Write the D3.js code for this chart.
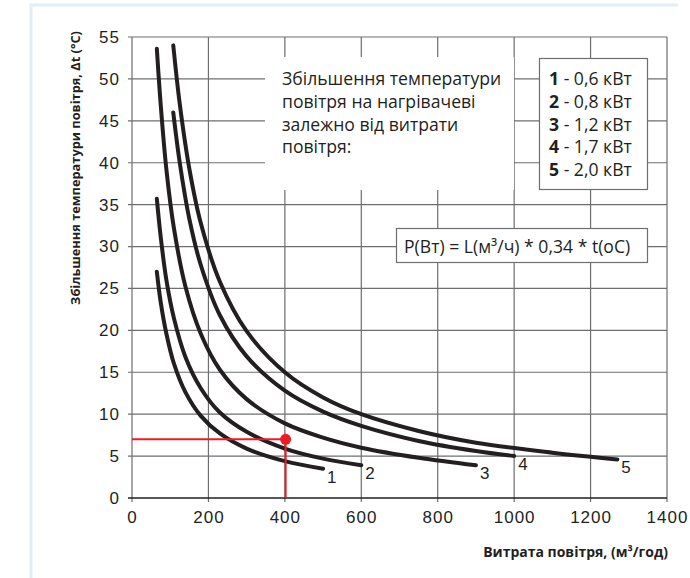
<!DOCTYPE html>
<meta charset="utf-8">
<script src="https://cdn.jsdelivr.net/npm/d3@7"></script>
<style>
  body { margin: 0; background: #fff; }
  svg text { fill: #231f20; }
</style>
<body>
<script>

    // curve data: [air flow m3/h, delta t °C]
    var curve1 = [[65,27],[75,23.4],[90,19.6],[110,16],[140,12.6],[180,9.8],[230,7.7],[300,5.9],[400,4.4],[500,3.5]];
    var curve2 = [[65,35.7],[75,31.2],[90,26],[110,21.4],[140,16.8],[180,13.1],[230,10.2],[300,7.9],[400,5.9],[500,4.7],[600,3.9]];
    var curve3 = [[65,53.6],[75,47],[90,39.2],[110,32.1],[140,25.2],[180,19.6],[230,15.3],[300,11.8],[400,8.9],[500,7.2],[600,6],[750,4.8],[900,3.9]];
    var curve4 = [[108,46],[125,40],[150,33.3],[180,27.8],[230,21.8],[300,16.9],[400,12.8],[500,10.3],[600,8.6],[750,6.8],[900,5.6],[1000,5]];
    var curve5 = [[108,54],[125,47],[150,39.3],[180,32.8],[230,25.8],[300,19.9],[400,15],[500,12],[600,10],[750,8],[900,6.6],[1100,5.4],[1270,4.6]];
    var curves = [curve1, curve2, curve3, curve4, curve5];
    var curveNames = ["1", "2", "3", "4", "5"];
    var powers = ["0,6 кВт", "0,8 кВт", "1,2 кВт", "1,7 кВт", "2,0 кВт"];

    var xTicks = [0, 200, 400, 600, 800, 1000, 1200, 1400];
    var yTicks = [0, 5, 10, 15, 20, 25, 30, 35, 40, 45, 50, 55];

    // example point
    var point = [402, 7];

    var descLines = ["Збільшення температури", "повітря на нагрівачеві", "залежно від витрати", "повітря:"];
    var formula = "P(Вт) = L(м³/ч) * 0,34 * t(oC)";
    var yTitle = "Збільшення температури повітря, Δt (°C)";
    var xTitle = "Витрата повітря, (м³/год)";

    var W = 690, H = 578;
    var mLeft = 132, mTop = 37, mRight = 667, mBottom = 498;

    var x = d3.scaleLinear().domain([0, 1400]).range([mLeft, mRight]);
    var y = d3.scaleLinear().domain([0, 55]).range([mBottom, mTop]);

    var svg = d3.select("body").append("svg")
        .attr("width", W)
        .attr("height", H);

    // light page frame
    svg.append("path")
        .attr("d", "M31,578V5H678")
        .attr("fill", "none")
        .attr("stroke", "#e4edf6")
        .attr("stroke-width", 3);

    // grid
    var grid = svg.append("g").attr("stroke", "#6d6e71").attr("stroke-width", 1.2);
    grid.selectAll(".h").data(yTicks.slice(1)).enter().append("line")
        .attr("x1", mLeft - 4).attr("x2", mRight)
        .attr("y1", function(d) { return y(d); })
        .attr("y2", function(d) { return y(d); });
    grid.selectAll(".v").data(xTicks).enter().append("line")
        .attr("x1", function(d) { return x(d); })
        .attr("x2", function(d) { return x(d); })
        .attr("y1", mTop).attr("y2", mBottom + 4);

    // bottom axis
    svg.append("g")
        .attr("transform", "translate(0," + mBottom + ")")
        .call(d3.axisBottom(x).tickValues(xTicks).tickFormat(d3.format("d")).tickSize(0).tickPadding(13))
        .call(function(g) {
          g.select(".domain").attr("stroke", "#231f20").attr("stroke-width", 1.5).attr("d", "M" + (mLeft - 4) + ",0H" + mRight);
          g.selectAll("text").attr("font-family", "Liberation Sans, Arial, sans-serif").attr("font-size", 17)
              .attr("letter-spacing", 1).attr("fill", "#414042");
        });

    // left axis labels
    svg.append("g")
        .attr("transform", "translate(" + mLeft + ",0)")
        .call(d3.axisLeft(y).tickValues(yTicks).tickFormat(d3.format("d")).tickSize(0).tickPadding(12))
        .call(function(g) {
          g.select(".domain").remove();
          g.selectAll("text").attr("font-family", "Liberation Sans, Arial, sans-serif").attr("font-size", 17)
              .attr("letter-spacing", 1).attr("fill", "#414042");
        });

    // description box
    svg.append("rect")
        .attr("x", 265).attr("y", 57).attr("width", 249).attr("height", 133)
        .attr("fill", "#fff");
    svg.append("text")
        .attr("font-family", "Open Sans, sans-serif")
        .attr("font-size", 17.6)
        .selectAll("tspan").data(descLines).enter().append("tspan")
        .attr("x", 282)
        .attr("y", function(d, i) { return 85 + i * 22.8; })
        .text(function(d) { return d; });

    // legend box
    svg.append("rect")
        .attr("x", 539.5).attr("y", 58.5).attr("width", 108).attr("height", 131)
        .attr("fill", "#fff").attr("stroke", "#6d6e71").attr("stroke-width", 1.2);
    var leg = svg.append("text")
        .attr("font-family", "Open Sans, sans-serif")
        .attr("font-size", 17.6);
    curveNames.forEach(function(n, i) {
      leg.append("tspan").attr("x", 549).attr("y", 85 + i * 22.8)
          .attr("font-weight", "bold").text(n);
      leg.append("tspan").text(" - " + powers[i]);
    });

    // formula box
    svg.append("rect")
        .attr("x", 396.5).attr("y", 228.5).attr("width", 251).attr("height", 34)
        .attr("fill", "#fff").attr("stroke", "#6d6e71").attr("stroke-width", 1.2);
    svg.append("text")
        .attr("x", 404).attr("y", 253)
        .attr("font-family", "Open Sans, sans-serif")
        .attr("font-size", 17.6)
        .text(formula);

    // curves
    var line = d3.line()
        .x(function(d) { return x(d[0]); })
        .y(function(d) { return y(d[1]); })
        .curve(d3.curveCatmullRom);

    svg.append("g").selectAll("path").data(curves).enter().append("path")
        .attr("d", line)
        .attr("fill", "none")
        .attr("stroke", "#231f20")
        .attr("stroke-width", 4)
        .attr("stroke-linecap", "round");

    // curve labels
    svg.append("g")
        .attr("font-family", "Liberation Sans, Arial, sans-serif")
        .attr("font-size", 17)
        .selectAll("text").data(curves).enter().append("text")
        .attr("x", function(d) { return x(d[d.length - 1][0]) + 4; })
        .attr("y", function(d) { return y(d[d.length - 1][1]) + 14; })
        .attr("fill", "#414042")
        .text(function(d, i) { return curveNames[i]; });

    // red example
    svg.append("path")
        .attr("d", "M" + mLeft + "," + y(point[1]) + "H" + x(point[0]) + "V" + mBottom)
        .attr("fill", "none")
        .attr("stroke", "#ed1c24")
        .attr("stroke-width", 2);
    svg.append("circle")
        .attr("cx", x(point[0])).attr("cy", y(point[1])).attr("r", 5.5)
        .attr("fill", "#ed1c24");

    // axis titles
    svg.append("text")
        .attr("transform", "translate(80,168) rotate(-90)")
        .attr("text-anchor", "middle")
        .attr("font-family", "Open Sans, sans-serif")
        .attr("font-weight", "bold")
        .attr("font-size", 12.8)
        .text(yTitle);
    svg.append("text")
        .attr("x", 668).attr("y", 557)
        .attr("text-anchor", "end")
        .attr("font-family", "Open Sans, sans-serif")
        .attr("font-weight", "bold")
        .attr("font-size", 14)
        .text(xTitle);
</script>
</body>
